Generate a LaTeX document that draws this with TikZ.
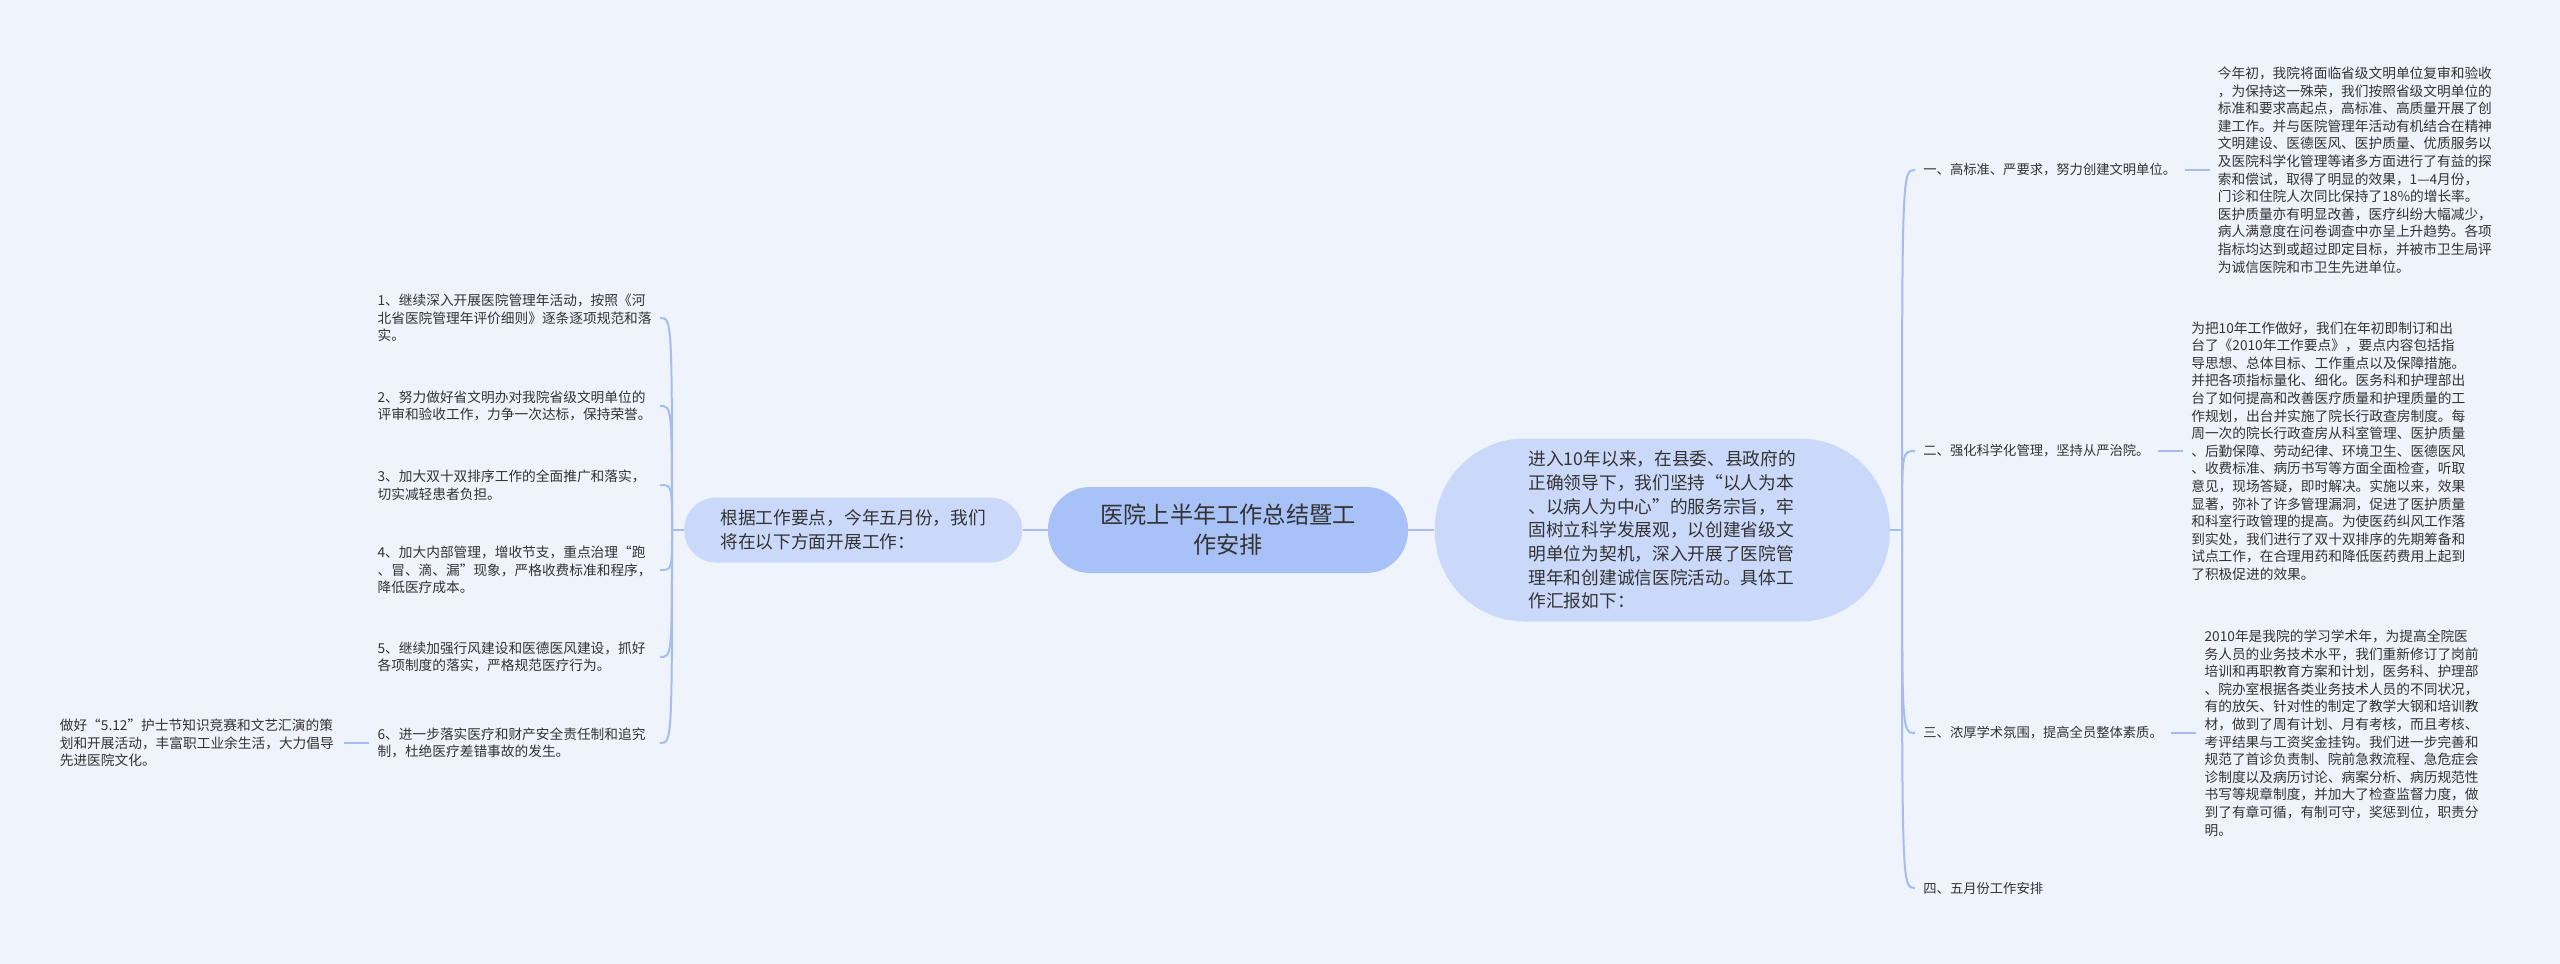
\documentclass[tikz,border=0pt]{standalone}
\usepackage{fontspec}
\newfontfamily\cjk{Noto Sans CJK SC}
\usepackage{tikz}
\usetikzlibrary{positioning}
\definecolor{bgc}{HTML}{EEF3FC}
\definecolor{rootc}{HTML}{A8C1F7}
\definecolor{subc}{HTML}{CAD9FA}
\definecolor{linec}{HTML}{A6BDEE}
\definecolor{txtc}{HTML}{333333}
\tikzset{
    topic/.style={fill=rootc, rounded corners=21pt, minimum width=180pt, minimum height=43pt,
        align=center, text=txtc, font=\cjk\fontsize{11.6pt}{15pt}\selectfont},
    sub/.style={fill=subc, align=left, text=txtc, font=\cjk\fontsize{8.85pt}{11.85pt}\selectfont},
    branch/.style={inner xsep=4pt, inner ysep=0pt, text=txtc, font=\cjk\fontsize{6.65pt}{8.8pt}\selectfont},
    leaf/.style={inner xsep=4pt, inner ysep=0pt, text width=137pt, align=left, text=txtc,
        font=\cjk\fontsize{6.85pt}{8.8pt}\selectfont},
    link/.style={draw=linec, line width=1pt}
}
\begin{document}
\begin{tikzpicture}[x=0.5pt, y=-0.5pt]
        \fill[bgc] (0,0) rectangle (2560,964);
        \useasboundingbox (0,0) rectangle (2560,964);
        \coordinate (rb) at (1902,530);
        \coordinate (lb) at (672,530);
        \node[topic] (root) at (1228,530) {医院上半年工作总结暨工\\作安排};
        \node[sub, minimum width=227.5pt, minimum height=91.5pt, rounded corners=45pt, right=13pt of root] (intro)
            {进入10年以来，在县委、县政府的\\正确领导下，我们坚持“以人为本\\、以病人为中心”的服务宗旨，牢\\固树立科学发展观，以创建省级文\\明单位为契机，深入开展了医院管\\理年和创建诚信医院活动。具体工\\作汇报如下：};
        \node[sub, minimum width=169pt, minimum height=32.5pt, rounded corners=16pt, left=12.5pt of root] (plan)
            {根据工作要点，今年五月份，我们\\将在以下方面开展工作：};
        \node[branch, anchor=west] (c1) at (1915,170) {一、高标准、严要求，努力创建文明单位。};
        \node[branch, anchor=west] (c2) at (1915,451) {二、强化科学化管理，坚持从严治院。};
        \node[branch, anchor=west] (c3) at (1915,733) {三、浓厚学术氛围，提高全员整体素质。};
        \node[branch, anchor=west] (c4) at (1915,888) {四、五月份工作安排};
        \node[leaf, right=12.5pt of c1] (d1) {今年初，我院将面临省级文明单位复审和验收\\，为保持这一殊荣，我们按照省级文明单位的\\标准和要求高起点，高标准、高质量开展了创\\建工作。并与医院管理年活动有机结合在精神\\文明建设、医德医风、医护质量、优质服务以\\及医院科学化管理等诸多方面进行了有益的探\\索和偿试，取得了明显的效果，1—4月份，\\门诊和住院人次同比保持了18\%的增长率。\\医护质量亦有明显改善，医疗纠纷大幅减少，\\病人满意度在问卷调查中亦呈上升趋势。各项\\指标均达到或超过即定目标，并被市卫生局评\\为诚信医院和市卫生先进单位。};
        \node[leaf, right=12.5pt of c2] (d2) {为把10年工作做好，我们在年初即制订和出\\台了《2010年工作要点》，要点内容包括指\\导思想、总体目标、工作重点以及保障措施。\\并把各项指标量化、细化。医务科和护理部出\\台了如何提高和改善医疗质量和护理质量的工\\作规划，出台并实施了院长行政查房制度。每\\周一次的院长行政查房从科室管理、医护质量\\、后勤保障、劳动纪律、环境卫生、医德医风\\、收费标准、病历书写等方面全面检查，听取\\意见，现场答疑，即时解决。实施以来，效果\\显著，弥补了许多管理漏洞，促进了医护质量\\和科室行政管理的提高。为使医药纠风工作落\\到实处，我们进行了双十双排序的先期筹备和\\试点工作，在合理用药和降低医药费用上起到\\了积极促进的效果。};
        \node[leaf, right=12.5pt of c3] (d3) {2010年是我院的学习学术年，为提高全院医\\务人员的业务技术水平，我们重新修订了岗前\\培训和再职教育方案和计划，医务科、护理部\\、院办室根据各类业务技术人员的不同状况，\\有的放矢、针对性的制定了教学大钢和培训教\\材，做到了周有计划、月有考核，而且考核、\\考评结果与工资奖金挂钩。我们进一步完善和\\规范了首诊负责制、院前急救流程、急危症会\\诊制度以及病历讨论、病案分析、病历规范性\\书写等规章制度，并加大了检查监督力度，做\\到了有章可循，有制可守，奖惩到位，职责分\\明。};
        \node[leaf, anchor=east] (p1) at (660,318) {1、继续深入开展医院管理年活动，按照《河\\北省医院管理年评价细则》逐条逐项规范和落\\实。};
        \node[leaf, anchor=east] (p2) at (660,406) {2、努力做好省文明办对我院省级文明单位的\\评审和验收工作，力争一次达标，保持荣誉。};
        \node[leaf, anchor=east] (p3) at (660,485) {3、加大双十双排序工作的全面推广和落实，\\切实减轻患者负担。};
        \node[leaf, anchor=east] (p4) at (660,570) {4、加大内部管理，增收节支，重点治理“跑\\、冒、滴、漏”现象，严格收费标准和程序，\\降低医疗成本。};
        \node[leaf, anchor=east] (p5) at (660,657) {5、继续加强行风建设和医德医风建设，抓好\\各项制度的落实，严格规范医疗行为。};
        \node[leaf, anchor=east] (p6) at (660,743) {6、进一步落实医疗和财产安全责任制和追究\\制，杜绝医疗差错事故的发生。};
        \node[leaf, text width=138pt, left=12.5pt of p6] (q6) {做好“5.12”护士节知识竞赛和文艺汇演的策\\划和开展活动，丰富职工业余生活，大力倡导\\先进医院文化。};
        \draw[link] (plan) -- (root) -- (intro);
        \draw[link] (intro.east) -- (rb);
        \draw[link] (plan.west) -- (lb);
        \foreach \n in {c1,c2,c3,c4}
            \draw[link] (rb) .. controls (rb |- \n.west) and (rb |- \n.west) .. (\n.west);
        \foreach \n in {1,2,3}
            \draw[link] (c\n) -- (d\n);
        \foreach \n in {1,...,6}
            \draw[link] (lb) .. controls (lb |- p\n.east) and (lb |- p\n.east) .. (p\n.east);
        \draw[link] (p6) -- (q6);
    \end{tikzpicture}
\end{document}
